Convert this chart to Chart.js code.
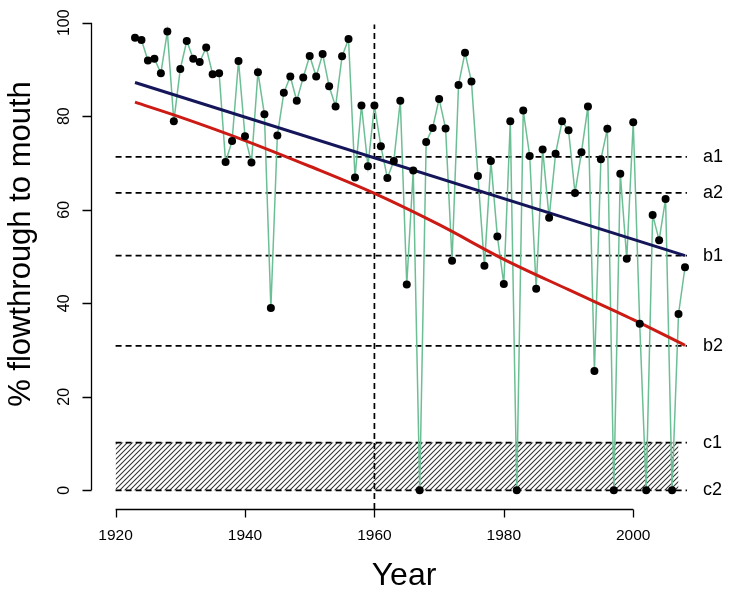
<!DOCTYPE html>
<html>
<head>
<meta charset="utf-8">
<script src="https://cdn.jsdelivr.net/npm/chart.js@4.4.1/dist/chart.umd.min.js"></script>
<style>
  html, body { margin: 0; padding: 0; background: #ffffff; }
  #wrap { width: 735px; height: 591px; position: relative; }
</style>
</head>
<body>
<div id="wrap"><canvas id="c" width="735" height="591"></canvas></div>
<script>
// ---------- data ----------
const years = [1923,1924,1925,1926,1927,1928,1929,1930,1931,1932,1933,1934,1935,1936,1937,1938,1939,1940,
  1941,1942,1943,1944,1945,1946,1947,1948,1949,1950,1951,1952,1953,1954,1955,1956,1957,1958,1959,1960,
  1961,1962,1963,1964,1965,1966,1967,1968,1969,1970,1971,1972,1973,1974,1975,1976,1977,1978,1979,1980,
  1981,1982,1983,1984,1985,1986,1987,1988,1989,1990,1991,1992,1993,1994,1995,1996,1997,1998,1999,2000,
  2001,2002,2003,2004,2005,2006,2007,2008];
const flowthrough = [96.8,96.3,91.9,92.3,89.2,98.1,78.9,90.1,96.1,92.3,91.6,94.7,89.0,89.2,70.2,74.7,91.8,75.7,
  70.1,89.4,80.4,39.0,75.9,85.0,88.5,83.3,88.3,92.9,88.5,93.3,86.4,82.1,92.8,96.5,66.9,82.3,69.3,82.3,
  73.6,66.8,70.4,83.3,44.0,68.4,0,74.5,77.5,83.7,77.4,49.1,86.7,93.6,87.4,67.2,48.0,70.4,54.3,44.1,
  78.9,0,81.2,71.5,43.1,72.9,58.3,72.0,78.9,77.0,63.6,72.3,82.1,25.5,70.8,77.3,0,67.7,49.5,78.7,
  35.6,0,58.9,53.5,62.3,0,37.7,47.7];

// fitted trend lines
const blueTrendYears = [1923, 2008];
const blueTrendValues = [87.2, 50.2];
const redTrendYears = [1923, 1930, 1940, 1950, 1960, 1970, 1980, 1990, 2000, 2008];
const redTrendValues = [83.0, 79.8, 74.8, 69.3, 63.5, 56.8, 49.4, 42.9, 36.5, 31.0];

// reference levels
const levelNames = ['a1', 'a2', 'b1', 'b2', 'c1', 'c2'];
const levelValues = [71.3, 63.6, 50.2, 30.9, 10.2, 0];
const levelStart = 1920;
const levelEnd = 2008.3;

// hatched band between c1 and c2
const bandYears = [1920, 2007];
const bandTop = 10.2;
const bandBottom = 0;

const dividerYear = 1960;
const dividerRange = [-4, 99.6];

const xTicks = [1920, 1940, 1960, 1980, 2000];
const yTicks = [0, 20, 40, 60, 80, 100];
const xTitle = 'Year';
const yTitle = '% flowthrough to mouth';

// ---------- build chart ----------
const FONT = '"Liberation Sans", Arial, Helvetica, sans-serif';

function hatchPattern() {
  const s = 5;
  const p = document.createElement('canvas');
  p.width = s; p.height = s;
  const g = p.getContext('2d');
  g.strokeStyle = '#333333';
  g.lineWidth = 1.05;
  g.beginPath();
  g.moveTo(0, s); g.lineTo(s, 0);
  g.moveTo(-1, 1); g.lineTo(1, -1);
  g.moveTo(s - 1, s + 1); g.lineTo(s + 1, s - 1);
  g.stroke();
  return document.getElementById('c').getContext('2d').createPattern(p, 'repeat');
}

const datasets = [];

datasets.push({
  label: 'band',
  data: bandYears.map(y => ({x: y, y: bandTop})),
  borderWidth: 0,
  borderColor: 'rgba(0,0,0,0)',
  backgroundColor: hatchPattern(),
  fill: {value: bandBottom},
  pointRadius: 0,
  order: 10
});

levelValues.forEach((v, i) => {
  datasets.push({
    label: levelNames[i],
    data: [{x: levelStart, y: v}, {x: levelEnd, y: v}],
    borderColor: '#000000',
    borderWidth: 1.7,
    borderDash: [6, 4],
    pointRadius: 0,
    fill: false,
    order: 9
  });
});

datasets.push({
  label: 'divider',
  data: dividerRange.map(v => ({x: dividerYear, y: v})),
  borderColor: '#000000',
  borderWidth: 1.7,
  borderDash: [6, 4],
  pointRadius: 0,
  fill: false,
  order: 9
});

datasets.push({
  label: 'flowthrough',
  data: years.map((y, i) => ({x: y, y: flowthrough[i]})),
  borderColor: '#6cbf94',
  borderWidth: 1.5,
  pointRadius: 0,
  fill: false,
  order: 5
});

datasets.push({
  label: 'blue',
  data: blueTrendYears.map((y, i) => ({x: y, y: blueTrendValues[i]})),
  borderColor: '#15155a',
  borderWidth: 3,
  pointRadius: 0,
  fill: false,
  order: 3
});

datasets.push({
  label: 'red',
  data: redTrendYears.map((y, i) => ({x: y, y: redTrendValues[i]})),
  borderColor: '#cc1a14',
  borderWidth: 3,
  pointRadius: 0,
  cubicInterpolationMode: 'monotone',
  fill: false,
  order: 2
});

datasets.push({
  label: 'points',
  data: years.map((y, i) => ({x: y, y: flowthrough[i]})),
  showLine: false,
  pointRadius: 4,
  pointBackgroundColor: '#000000',
  pointBorderColor: '#000000',
  pointBorderWidth: 0,
  order: 1
});

const rAxes = {
  id: 'rAxes',
  afterDraw(chart) {
    const ctx = chart.ctx;
    const xs = chart.scales.x, ys = chart.scales.y;
    ctx.save();
    ctx.strokeStyle = '#000';
    ctx.fillStyle = '#000';
    ctx.lineWidth = 1.3;

    // x axis
    const axY = 509.5;
    ctx.beginPath();
    ctx.moveTo(xs.getPixelForValue(xTicks[0]), axY);
    ctx.lineTo(xs.getPixelForValue(xTicks[xTicks.length - 1]), axY);
    xTicks.forEach(t => {
      const px = Math.round(xs.getPixelForValue(t)) + 0.5;
      ctx.moveTo(px, axY); ctx.lineTo(px, axY + 8);
    });
    ctx.stroke();
    ctx.font = '15.5px ' + FONT;
    ctx.textAlign = 'center';
    ctx.textBaseline = 'middle';
    xTicks.forEach(t => ctx.fillText(String(t), xs.getPixelForValue(t), 536));

    // y axis
    const axX = 91.5;
    ctx.beginPath();
    ctx.moveTo(axX, ys.getPixelForValue(yTicks[0]));
    ctx.lineTo(axX, ys.getPixelForValue(yTicks[yTicks.length - 1]));
    yTicks.forEach(t => {
      const py = Math.round(ys.getPixelForValue(t)) + 0.5;
      ctx.moveTo(axX, py); ctx.lineTo(axX - 9, py);
    });
    ctx.stroke();
    ctx.font = '16px ' + FONT;
    yTicks.forEach(t => {
      ctx.save();
      ctx.translate(65, ys.getPixelForValue(t));
      ctx.rotate(-Math.PI / 2);
      ctx.fillText(String(t), 0, 0);
      ctx.restore();
    });

    // titles
    ctx.font = '32px ' + FONT;
    ctx.fillText(xTitle, 404, 576);
    ctx.save();
    ctx.translate(21, 244);
    ctx.rotate(-Math.PI / 2);
    ctx.font = '31px ' + FONT;
    ctx.fillText(yTitle, 0, 0);
    ctx.restore();

    // level labels
    ctx.font = '18px ' + FONT;
    ctx.textAlign = 'left';
    levelValues.forEach((v, i) => {
      ctx.fillText(levelNames[i], 703, ys.getPixelForValue(v));
    });
    ctx.restore();
  }
};

new Chart(document.getElementById('c'), {
  type: 'line',
  data: {datasets},
  options: {
    responsive: false,
    animation: false,
    devicePixelRatio: 1,
    layout: {padding: {left: 113, right: 28, top: 1, bottom: 82}},
    plugins: {legend: {display: false}, tooltip: {enabled: false}},
    scales: {
      x: {type: 'linear', min: 1919.6, max: 2011.4, display: false},
      y: {type: 'linear', min: -4, max: 104, display: false}
    },
    elements: {line: {tension: 0}}
  },
  plugins: [rAxes]
});
</script>
</body>
</html>
